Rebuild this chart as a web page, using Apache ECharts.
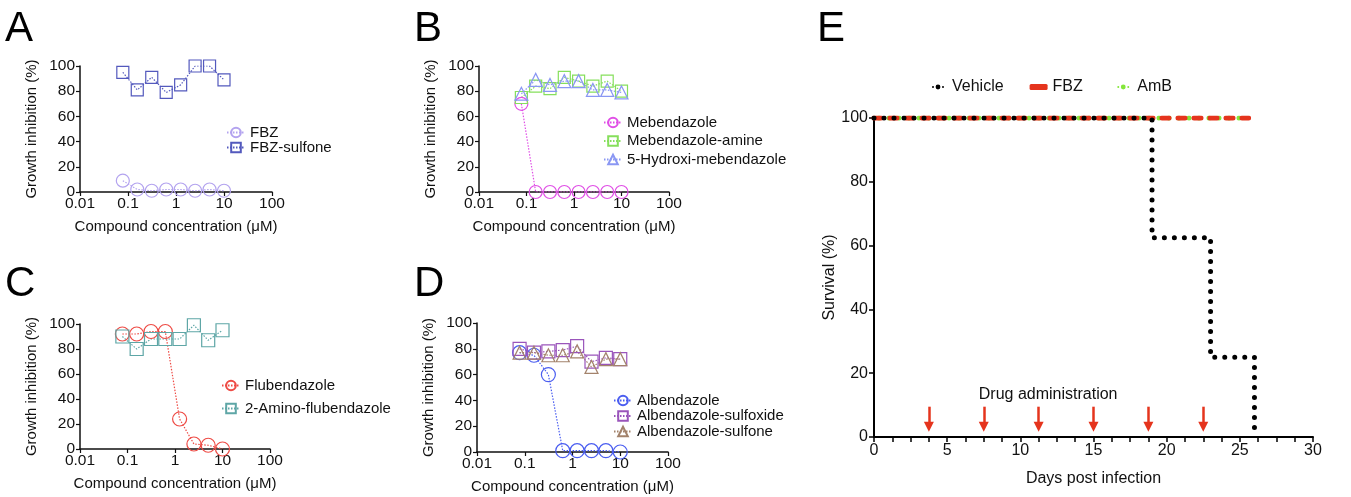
<!DOCTYPE html>
<html>
<head>
<meta charset="utf-8">
<script src="https://cdn.jsdelivr.net/npm/echarts@6/dist/echarts.min.js"></script>
<style>
  html, body { margin: 0; padding: 0; background: #fff; }
  #main { width: 1351px; height: 497px; }
</style>
</head>
<body>
<div id="main"></div>
<script>
// concentrations (uM), two-fold dilution series
var conc = [0.078, 0.156, 0.3125, 0.625, 1.25, 2.5, 5, 10];
var concTicks = ["0.01", "0.1", "1", "10", "100"];

// A
var fbz = [9, 2, 1, 2, 2, 1, 2, 1];
var fbzSulfone = [95, 81, 91, 79, 85, 100, 100, 89];
// B
var mebendazole = [70, 0, 0, 0, 0, 0, 0, 0];
var mebAmine = [75, 84, 82, 91, 88, 84, 88, 80];
var hydroxyMeb = [78, 89, 85, 88, 88, 81, 81, 79];
// C
var flubendazole = [92, 92, 94, 94, 24, 4, 3, 0];
var aminoFlub = [90, 80, 88, 88, 88, 99, 87, 95];
// D
var albendazole = [77, 75, 60, 1, 1, 1, 1, 0];
var albSulfoxide = [80, 77, 78, 79, 82, 70, 73, 72];
var albSulfone = [77, 77, 75, 75, 78, 66, 72, 72];

// E survival (day, %)
var vehicle = [[0, 100], [19, 62.5], [23, 25], [26, 0]];
var fbzSurv = [[0, 100], [25.6, 100]];
var ambSurv = [[0, 100], [25.6, 100]];
var doseDays = [3.75, 7.5, 11.25, 15, 18.75, 22.5];

var FONT = "Liberation Sans";

var chart = echarts.init(document.getElementById("main"));

function pairs(vals) {
  return vals.map(function (v, i) { return [conc[i], v]; });
}

function doseSeries(name, vals, idx, color, symbol, size) {
  return {
    name: name,
    type: "line",
    xAxisIndex: idx,
    yAxisIndex: idx,
    data: pairs(vals),
    symbol: symbol,
    symbolSize: size,
    itemStyle: { color: "rgba(255,255,255,0)", borderColor: color, borderWidth: 1.2 },
    lineStyle: { color: color, width: 1.2, type: [1.5, 1.5] },
    emphasis: { disabled: true },
  };
}

// grids: A, B, C, D, E
var grids = [
  { left: 80, top: 66, width: 192, height: 126 },
  { left: 479, top: 66, width: 190, height: 126 },
  { left: 80, top: 324, width: 190, height: 125 },
  { left: 477, top: 323, width: 191, height: 129 },
  { left: 874, top: 118, width: 439, height: 319 },
];

var xAxes = [];
var yAxes = [];
for (var i = 0; i < 4; i++) {
  xAxes.push({
    type: "log",
    logBase: 10,
    gridIndex: i,
    min: 0.01,
    max: 100,
    name: "Compound concentration (\u03bcM)",
    nameLocation: "middle",
    nameGap: 27,
    nameTextStyle: { fontSize: 15, color: "#111", fontFamily: FONT },
    axisLine: { lineStyle: { color: "#111", width: 1.5 } },
    axisTick: { length: 4, lineStyle: { color: "#111", width: 1.2 } },
    axisLabel: {
      fontSize: 15.5, color: "#111", fontFamily: FONT, margin: 4,
      formatter: function (v) { return concTicks[Math.round(Math.log10(v)) + 2]; },
    },
    minorTick: { show: false },
    splitLine: { show: false },
  });
  yAxes.push({
    type: "value",
    gridIndex: i,
    min: 0,
    max: 100,
    interval: 20,
    name: "Growth inhibition (%)",
    nameLocation: "middle",
    nameGap: 41,
    nameTextStyle: { fontSize: 15, color: "#111", fontFamily: FONT },
    axisLine: { show: true, lineStyle: { color: "#111", width: 1.5 } },
    axisTick: { show: true, length: 4, lineStyle: { color: "#111", width: 1.2 } },
    axisLabel: { fontSize: 15.5, color: "#111", fontFamily: FONT, margin: 5 },
    splitLine: { show: false },
  });
}
xAxes.push({
  type: "value",
  gridIndex: 4,
  min: 0,
  max: 30,
  interval: 5,
  name: "Days post infection",
  nameLocation: "middle",
  nameGap: 34,
  nameTextStyle: { fontSize: 16, color: "#111", fontFamily: FONT },
  axisLine: { lineStyle: { color: "#000", width: 2 } },
  axisTick: { length: 5, lineStyle: { color: "#000", width: 1.5 } },
  minorTick: { show: true, splitNumber: 4, length: 5, lineStyle: { color: "#000", width: 1.5 } },
  axisLabel: { fontSize: 16, color: "#111", fontFamily: FONT, margin: 6 },
  splitLine: { show: false },
});
yAxes.push({
  type: "value",
  gridIndex: 4,
  min: 0,
  max: 100,
  interval: 20,
  name: "Survival (%)",
  nameLocation: "middle",
  nameGap: 34,
  nameTextStyle: { fontSize: 16, color: "#111", fontFamily: FONT },
  axisLine: { show: true, lineStyle: { color: "#000", width: 2 } },
  axisTick: { show: true, length: 5, lineStyle: { color: "#000", width: 1.5 } },
  axisLabel: { fontSize: 16, color: "#111", fontFamily: FONT, margin: 6 },
  splitLine: { show: false },
});

var series = [
  doseSeries("FBZ", fbz, 0, "#b3a3ef", "circle", 13),
  doseSeries("FBZ-sulfone", fbzSulfone, 0, "#5359bd", "rect", 12),
  doseSeries("Mebendazole", mebendazole, 1, "#e04fe6", "circle", 13),
  doseSeries("Mebendazole-amine", mebAmine, 1, "#86df5c", "rect", 12),
  doseSeries("5-Hydroxi-mebendazole", hydroxyMeb, 1, "#8a97f3", "triangle", 13),
  doseSeries("Flubendazole", flubendazole, 2, "#ee4b45", "circle", 14),
  doseSeries("2-Amino-flubendazole", aminoFlub, 2, "#5ea6a6", "rect", 13),
  doseSeries("Albendazole", albendazole, 3, "#4a5df0", "circle", 14),
  doseSeries("Albendazole-sulfoxide", albSulfoxide, 3, "#9a55bb", "rect", 13),
  doseSeries("Albendazole-sulfone", albSulfone, 3, "#a3836c", "triangle", 13),
  {
    name: "AmB",
    type: "line",
    xAxisIndex: 4,
    yAxisIndex: 4,
    data: ambSurv,
    symbol: "none",
    itemStyle: { color: "#84e63a" },
    lineStyle: { color: "#84e63a", width: 5, type: [0, 10], cap: "round", dashOffset: 5 },
    emphasis: { disabled: true },
  },
  {
    name: "FBZ ",
    type: "line",
    xAxisIndex: 4,
    yAxisIndex: 4,
    data: fbzSurv,
    symbol: "none",
    itemStyle: { color: "#e5341d" },
    lineStyle: { color: "#e5341d", width: 5, type: [7, 9], cap: "round" },
    emphasis: { disabled: true },
  },
  {
    name: "Vehicle",
    type: "line",
    xAxisIndex: 4,
    yAxisIndex: 4,
    data: vehicle,
    step: "end",
    symbol: "none",
    itemStyle: { color: "#000" },
    lineStyle: { color: "#000", width: 5, type: [0, 10], cap: "round" },
    emphasis: { disabled: true },
    markLine: {
      silent: true,
      symbol: ["none", "triangle"],
      symbolSize: 10,
      symbolRotate: 180,
      label: { show: false },
      lineStyle: { color: "#e5341d", width: 2.5, type: "solid" },
      data: doseDays.map(function (d) {
        return [{ coord: [d, 9.5] }, { coord: [d, 3.2] }];
      }),
    },
    markPoint: {
      silent: true,
      symbol: "circle",
      symbolSize: 0,
      label: {
        show: true,
        position: "inside",
        formatter: "Drug administration",
        fontSize: 16,
        color: "#111",
        fontFamily: FONT,
      },
      data: [{ coord: [11.9, 13.2] }],
    },
  },
];

function legendOf(names, left, top, gap) {
  return {
    data: names,
    orient: "vertical",
    left: left,
    top: top,
    padding: 0,
    itemGap: gap,
    itemWidth: 18,
    itemHeight: 12,
    selectedMode: false,
    textStyle: { fontSize: 15, color: "#111", fontFamily: FONT, lineHeight: 15 },
  };
}

var option = {
  animation: false,
  textStyle: { fontFamily: FONT },
  grid: grids,
  xAxis: xAxes,
  yAxis: yAxes,
  legend: [
    legendOf(["FBZ", "FBZ-sulfone"], 226, 125, 0),
    legendOf(["Mebendazole", "Mebendazole-amine", "5-Hydroxi-mebendazole"], 603, 115, 3.5),
    legendOf(["Flubendazole", "2-Amino-flubendazole"], 221, 378, 8),
    legendOf(["Albendazole", "Albendazole-sulfoxide", "Albendazole-sulfone"], 613, 393, 0.5),
    {
      data: [
        { name: "Vehicle", lineStyle: { dashOffset: -4 } },
        { name: "FBZ ", icon: "roundRect", itemStyle: { color: "#e5341d" } },
        { name: "AmB", lineStyle: { dashOffset: -4 } },
      ],
      orient: "horizontal",
      left: 928,
      top: 79,
      padding: 0,
      itemGap: 26,
      itemWidth: 18,
      itemHeight: 6,
      selectedMode: false,
      textStyle: { fontSize: 16, color: "#111", fontFamily: FONT },
    },
  ],
  graphic: [
    { type: "text", left: 5, top: 8, style: { text: "A", fontSize: 42, fill: "#000", fontFamily: FONT } },
    { type: "text", left: 414, top: 8, style: { text: "B", fontSize: 42, fill: "#000", fontFamily: FONT } },
    { type: "text", left: 5, top: 263, style: { text: "C", fontSize: 42, fill: "#000", fontFamily: FONT } },
    { type: "text", left: 414, top: 263, style: { text: "D", fontSize: 42, fill: "#000", fontFamily: FONT } },
    { type: "text", left: 817, top: 8, style: { text: "E", fontSize: 42, fill: "#000", fontFamily: FONT } },
  ],
  series: series,
};

option && chart.setOption(option);
</script>
</body>
</html>
